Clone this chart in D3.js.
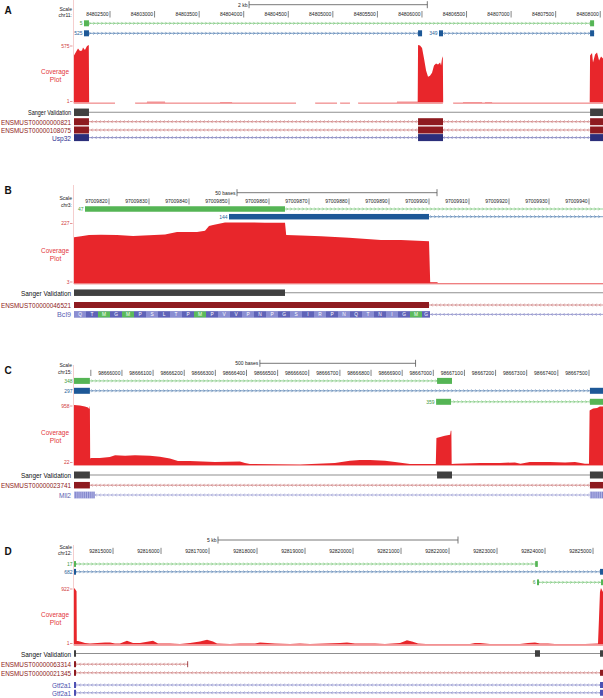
<!DOCTYPE html>
<html><head><meta charset="utf-8">
<script src="https://cdn.jsdelivr.net/npm/d3@7"></script>
<style>body{margin:0;background:#fff}svg{display:block}text{font-family:"Liberation Sans",Arial,sans-serif}</style>
</head><body><svg id="chart" width="603" height="698"></svg>
<script>
// ================= DATA =================
const panelLetters = ["A", "B", "C", "D"];
const chromosomes = ["chr11:", "chr3:", "chr15:", "chr12:"];
const viewRanges = [[84802096, 84808031], [97009811.25, 97009943.5], [98665846, 98667545], [92814187, 92825208]];
const scaleBarLabels = ["2 kb", "50 bases", "500 bases", "5 kb"];
const scaleBarRanges = [[84804060, 84806060], [97009852, 97009902], [98666443, 98666943], [92817187, 92822187]];

const ticksA = [84802500, 84803000, 84803500, 84804000, 84804500, 84805000, 84805500, 84806000, 84806500, 84807000, 84807500, 84808000];
const tickLabelsA = ["84802500", "84803000", "84803500", "84804000", "84804500", "84805000", "84805500", "84806000", "84806500", "84807000", "84807500", "84808000"];
const ticksB = [97009820, 97009830, 97009840, 97009850, 97009860, 97009870, 97009880, 97009890, 97009900, 97009910, 97009920, 97009930, 97009940];
const tickLabelsB = ["97009820", "97009830", "97009840", "97009850", "97009860", "97009870", "97009880", "97009890", "97009900", "97009910", "97009920", "97009930", "97009940"];
const ticksC = [98665900, 98666000, 98666100, 98666200, 98666300, 98666400, 98666500, 98666600, 98666700, 98666800, 98666900, 98667000, 98667100, 98667200, 98667300, 98667400, 98667500];
const tickLabelsC = ["", "98666000", "98666100", "98666200", "98666300", "98666400", "98666500", "98666600", "98666700", "98666800", "98666900", "98667000", "98667100", "98667200", "98667300", "98667400", "98667500"];
const ticksD = [92815000, 92816000, 92817000, 92818000, 92819000, 92820000, 92821000, 92822000, 92823000, 92824000, 92825000];
const tickLabelsD = ["92815000", "92816000", "92817000", "92818000", "92819000", "92820000", "92821000", "92822000", "92823000", "92824000", "92825000"];

const coverageRanges = [[1, 575], [3, 227], [22, 958], [1, 922]];

const coverageA = [[84802096,470],[84802118,505],[84802141,540],[84802163,515],[84802186,520],[84802197,550],[84802219,525],[84802242,565],[84802262,575],
 [84802266,3],[84802556,3],[84802558,0],[84802780,0],[84802782,3],[84802913,3],[84802915,8],[84803117,8],[84803119,3],[84803734,3],[84803736,6],[84803869,6],[84803871,3],[84804587,3],[84804589,0],[84804800,0],[84804802,3],[84805047,3],[84805049,0],[84805080,0],[84805082,3],[84805192,3],[84805194,0],[84805282,0],[84805284,3],[84805718,3],[84805720,8],[84805952,8],
 [84805956,575],[84805978,570],[84806001,545],[84806023,440],[84806046,320],[84806068,257],[84806090,268],[84806113,298],[84806135,370],[84806158,390],[84806180,380],[84806203,400],[84806214,370],[84806225,440],[84806234,462],
 [84806238,0],[84806348,0],[84806350,3],[84806459,3],[84806461,7],[84806674,7],[84806676,3],[84806705,3],[84806707,5],[84806786,5],[84806788,3],[84807882,3],
 [84807886,470],[84807908,495],[84807919,400],[84807942,480],[84807964,500],[84807987,420],[84808009,460],[84808031,440]];
const coverageB = [[97009811.25,172],[97009813,176],[97009815,181],[97009818,182],[97009822,181],[97009826,177],[97009830,180],[97009834,183],[97009837,192],[97009842,192],[97009844,196],[97009845,214],[97009846,218],[97009849,227],[97009855,227],[97009859,226],[97009864,226],[97009864.3,181],[97009868,179],[97009873,176],[97009880,171],[97009888,162],[97009893,162],[97009900,158],[97009900.3,6],[97009902,6],[97009902.3,3],[97009943.5,3]];
const coverageC = [[98665846,958],[98665865,950],[98665881,935],[98665891,919],[98665895,896],[98665897,950],[98665898,100],[98665900,109],[98665929,109],[98665961,125],[98665978,156],[98666010,148],[98666042,156],[98666090,148],[98666122,132],[98666154,101],[98666180,62],[98666218,62],[98666299,47],[98666379,55],[98666395,31],[98666411,16],[98666572,8],[98666684,31],[98666732,67],[98666764,78],[98666797,78],[98666845,67],[98666877,47],[98666925,16],[98667008,16],[98667010,430],[98667025,450],[98667037,467],[98667054,483],[98667056,545],[98667058,545],[98667059,16],[98667070,20],[98667150,31],[98667214,31],[98667262,39],[98667280,20],[98667310,47],[98667375,47],[98667423,39],[98667455,47],[98667487,20],[98667500,20],[98667502,872],[98667513,903],[98667526,910],[98667535,935],[98667545,935]];
const coverageD = [[92814187,922],[92814208,905],[92814229,880],[92814240,870],[92814245,60],[92814270,60],[92814312,50],[92814416,24],[92814520,16],[92814833,32],[92814937,32],[92815041,16],[92815145,16],[92815291,64],[92815416,24],[92815562,24],[92815833,64],[92815937,16],[92816187,16],[92816395,8],[92816604,24],[92816812,48],[92816958,80],[92817083,48],[92817166,16],[92817437,8],[92817645,16],[92817958,16],[92818062,32],[92818374,16],[92818687,8],[92818895,16],[92819103,8],[92819729,24],[92819874,32],[92820041,16],[92820249,16],[92820458,18],[92820666,8],[92820979,24],[92821062,48],[92821124,72],[92821229,48],[92821354,16],[92821520,8],[92821812,8],[92822437,8],[92822541,24],[92822645,24],[92822853,8],[92823478,8],[92823645,24],[92823791,32],[92823895,16],[92824062,16],[92824208,8],[92824833,8],[92825104,16],[92825124,413],[92825145,858],[92825166,922],[92825208,858]];

// junction/read features (type g = green track, b = blue track)
const featuresA = [
  {row: 0, type: "g", label: "5", blocks: [[84802208, 84802264], [84807886, 84807931]]},
  {row: 1, type: "b", label: "525", blocks: [[84802208, 84802264], [84805956, 84806001]]},
  {row: 1, type: "b", label: "349", blocks: [[84806191, 84806236], [84807886, 84807931]]}
];
const featuresB = [
  {row: 0, type: "g", label: "47", blocks: [[97009814, 97009864]], lineTo: 97009950},
  {row: 1, type: "b", label: "144", blocks: [[97009850, 97009900]], lineTo: 97009950}
];
const featuresC = [
  {row: 0, type: "g", label: "348", blocks: [[98665840, 98665897], [98667012, 98667060]]},
  {row: 1, type: "b", label: "297", blocks: [[98665840, 98665897], [98667503, 98667550]]},
  {row: 2, type: "g", label: "359", blocks: [[98667009, 98667057], [98667503, 98667550]]}
];
const featuresD = [
  {row: 0, type: "g", label: "17", blocks: [[92814180, 92814229], [92823795, 92823850]]},
  {row: 1, type: "b", label: "682", blocks: [[92814180, 92814229], [92825146, 92825250]]},
  {row: 2, type: "g", label: "6", blocks: [[92823833, 92823875], [92825166, 92825250]]}
];

const sangerA = {blocks: [[84802090, 84802264], [84807886, 84808040]]};
const sangerB = {blocks: [[97009805, 97009864]], lineTo: 97009950};
const sangerC = {blocks: [[98665840, 98665897], [98667012, 98667060], [98667503, 98667550]]};
const sangerD = {blocks: [[92814180, 92814229], [92823791, 92823895], [92825146, 92825250]]};

const exonsA = [[84802090, 84802264], [84805956, 84806236], [84807886, 84808040]];
const genesA = [
  {name: "ENSMUST00000000821", type: "ens", blocks: exonsA},
  {name: "ENSMUST00000108075", type: "ens", blocks: exonsA},
  {name: "Usp32", type: "refseq", blocks: exonsA}
];
const genesB = [
  {name: "ENSMUST00000046521", type: "ens", blocks: [[97009805, 97009900]], lineTo: 97009950},
  {name: "Bcl9", type: "codons", blocks: [[97009811.25, 97009900.25]], lineTo: 97009950, aa: "QTMGMPSLTPMPVVPNPGSIRPNQTNIGMG"}
];
const genesC = [
  {name: "ENSMUST00000023741", type: "ens", blocks: [[98665840, 98665897], [98667503, 98667550]]},
  {name: "Mll2", type: "stripes", blocks: [[98665840, 98665913], [98667503, 98667550]]}
];
const genesD = [
  {name: "ENSMUST00000063314", type: "ens", blocks: [[92814180, 92814229], [92816548, 92816562]]},
  {name: "ENSMUST00000021345", type: "ens", blocks: [[92814180, 92814229], [92825146, 92825250]]},
  {name: "Gtf2a1", type: "refseq2", blocks: [[92814180, 92814229], [92825146, 92825250]]},
  {name: "Gtf2a1", type: "refseq2", blocks: [[92814180, 92814229], [92825146, 92825250]]}
];

// ================= LAYOUT / STYLE =================
const LAYOUT = [
 {top:0, letterY:13.5, barY:4.7, scaleY:11, chrY:16.5, tickY:16, tickT:11, tickB:17.5, rows:[23.3,33.3], covTop:45, covBot:102.5, base:103.5, sangerY:112.3, geneYs:[121.7,130,137.6], featH:6, geneH:7, sangerW:43},
 {top:185, letterY:193.5, barY:192.7, scaleY:200, chrY:207, tickY:203.3, tickT:198.5, tickB:204.5, rows:[209,216.7], covTop:222.5, covBot:283, base:284, sangerY:292.7, geneYs:[305,314.4], featH:5.5, geneH:6, sangerW:50},
 {top:365, letterY:373.5, barY:363.3, scaleY:367.3, chrY:374.3, tickY:374.8, tickT:369.8, tickB:376, rows:[380.9,390.8,401.8], covTop:405, covBot:463.5, base:465.5, sangerY:475, geneYs:[485.2,495], featH:6, geneH:6.5, sangerW:50},
 {top:545, letterY:554.5, barY:540, scaleY:548.7, chrY:554.7, tickY:552.8, tickT:547.8, tickB:554, rows:[564,571.8,582.3], covTop:588, covBot:644.5, base:645.5, sangerY:653.5, geneYs:[664.2,672.8,685,692.8], featH:5.8, geneH:6, sangerW:50}
];
const COL = {
  g: {box: "#55b555", line: "#6cc06c", text: "#3e9a3e"},
  b: {box: "#1d5897", line: "#4474aa", text: "#2a5f98"},
  ens: {box: "#8e1b20", line: "#c56b6b", text: "#8e1b20"},
  refseq: {box: "#2b2e7a", line: "#6a6db2", text: "#2e3192"},
  refseq2: {box: "#4c51b3", line: "#7a7dc2", text: "#4a4fae"},
  codons: {box: "#6166b8", line: "#7a7dc2", text: "#5b5fb3"},
  stripes: {box: "#a0a4dd", line: "#8c8fcc", text: "#5d61b0"},
  sanger: {box: "#404040", line: "#8f8f8f", text: "#111"}
};
const RED = "#e8262b";
const X0 = 74, X1 = 603;

const panels = [
  {ticks: ticksA, tickLabels: tickLabelsA, features: featuresA, cov: coverageA, sanger: sangerA, genes: genesA},
  {ticks: ticksB, tickLabels: tickLabelsB, features: featuresB, cov: coverageB, sanger: sangerB, genes: genesB},
  {ticks: ticksC, tickLabels: tickLabelsC, features: featuresC, cov: coverageC, sanger: sangerC, genes: genesC},
  {ticks: ticksD, tickLabels: tickLabelsD, features: featuresD, cov: coverageD, sanger: sangerD, genes: genesD}
];

const svg = d3.select("#chart");

function chevPath(xa, xb, y, dir) {
  const step = 4, h = 1.4, w = 1.3;
  let s = "";
  for (let xx = xa + step / 2; xx < xb - 1; xx += step) {
    if (dir > 0) s += `M${xx - w/2},${y - h}L${xx + w/2},${y}L${xx - w/2},${y + h}`;
    else s += `M${xx + w/2},${y - h}L${xx - w/2},${y}L${xx + w/2},${y + h}`;
  }
  return s;
}

function drawRow(g, x, y, item, col, dir, h, chev) {
  const starts = item.blocks.map(b => b[0]);
  const ends = item.blocks.map(b => b[1]);
  const xa = x(d3.min(starts));
  const xb = x(Math.max(d3.max(ends), item.lineTo || 0));
  g.append("line").attr("x1", xa).attr("x2", xb).attr("y1", y).attr("y2", y)
    .attr("stroke", col.line).attr("stroke-width", chev ? 0.7 : 1.1);
  if (chev) g.append("path").attr("d", chevPath(xa, xb, y, dir))
    .attr("fill", "none").attr("stroke", col.line).attr("stroke-width", 0.6);
  g.selectAll(null).data(item.blocks).enter().append("rect")
    .attr("x", d => x(d[0])).attr("width", d => Math.max(0.8, x(d[1]) - x(d[0])))
    .attr("y", y - h / 2).attr("height", h).attr("fill", col.box);
  return xa;
}

panels.forEach((p, i) => {
  const L = LAYOUT[i];
  const x = d3.scaleLinear().domain(viewRanges[i]).range([X0, X1]).clamp(true);
  const g = svg.append("g");

  // guide line
  g.append("line").attr("x1", 73.5).attr("x2", 73.5).attr("y1", L.top).attr("y2", L.base)
    .attr("stroke", "#f3c2c2").attr("stroke-width", 0.8);

  // panel letter
  g.append("text").attr("x", 4.5).attr("y", L.letterY).text(panelLetters[i])
    .attr("font-size", 10).attr("font-weight", "bold").attr("fill", "#111");

  // scale bar
  const sb = scaleBarRanges[i];
  g.append("line").attr("x1", x(sb[0])).attr("x2", x(sb[1])).attr("y1", L.barY).attr("y2", L.barY).attr("stroke", "#555").attr("stroke-width", 0.8);
  sb.forEach(v => g.append("line").attr("x1", x(v)).attr("x2", x(v)).attr("y1", L.barY - 3.5).attr("y2", L.barY + 3.5).attr("stroke", "#555").attr("stroke-width", 0.8));
  g.append("text").attr("x", x(sb[0]) - 1.5).attr("y", L.barY + 2).attr("text-anchor", "end").attr("font-size", 5).attr("fill", "#222").text(scaleBarLabels[i]);

  g.append("text").attr("x", 72).attr("y", L.scaleY).attr("text-anchor", "end").attr("font-size", 5).attr("fill", "#222").text("Scale");
  g.append("text").attr("x", 72).attr("y", L.chrY).attr("text-anchor", "end").attr("font-size", 5).attr("fill", "#222").text(chromosomes[i]);

  // position ticks
  p.ticks.forEach((t, k) => {
    const tx = x(t);
    g.append("line").attr("x1", tx).attr("x2", tx).attr("y1", L.tickT).attr("y2", L.tickB).attr("stroke", "#333").attr("stroke-width", 0.6);
    g.append("text").attr("x", tx - 1.5).attr("y", L.tickY).attr("text-anchor", "end").attr("font-size", 5).attr("fill", "#222").text(p.tickLabels[k]);
  });

  // feature rows
  p.features.forEach(f => {
    const y = L.rows[f.row];
    const xa = drawRow(g, x, y, f, COL[f.type], 1, L.featH, true);
    g.append("text").attr("x", Math.max(xa, X0) - 1.5).attr("y", y + 1.8).attr("text-anchor", "end")
      .attr("font-size", 5).attr("fill", COL[f.type].text).text(f.label);
  });

  // coverage
  const cr = coverageRanges[i];
  const y = d3.scaleLinear().domain(cr).range([L.covBot, L.covTop]);
  g.append("path").datum(p.cov)
    .attr("d", d3.area().x(d => x(d[0])).y0(y(0)).y1(d => y(d[1])))
    .attr("fill", RED);
  g.append("path").datum(p.cov)
    .attr("d", d3.line().defined(d => d[1] > 0).x(d => x(d[0])).y(L.base))
    .attr("fill", "none").attr("stroke", "#f2a3a3").attr("stroke-width", 1.1);
  cr.forEach((v, k) => {
    const yy = y(v) + (k === 0 ? -1 : 1);
    g.append("line").attr("x1", 70).attr("x2", 72.5).attr("y1", yy).attr("y2", yy).attr("stroke", "#d65050").attr("stroke-width", 0.6);
    g.append("text").attr("x", 69.5).attr("y", yy + 1.7).attr("text-anchor", "end").attr("font-size", 5).attr("fill", "#d04040").text(v);
  });
  const cmid = (L.covTop + L.covBot) / 2;
  g.append("text").attr("x", 55).attr("y", cmid + 0.5).attr("text-anchor", "middle").attr("font-size", 8)
    .attr("textLength", 28).attr("lengthAdjust", "spacingAndGlyphs").attr("fill", "#e3353a").text("Coverage");
  g.append("text").attr("x", 55.5).attr("y", cmid + 8.5).attr("text-anchor", "middle").attr("font-size", 8)
    .attr("textLength", 11.5).attr("lengthAdjust", "spacingAndGlyphs").attr("fill", "#e3353a").text("Plot");

  // sanger
  drawRow(g, x, L.sangerY, p.sanger, COL.sanger, 0, L.geneH + 0.5, false);
  g.append("text").attr("x", 71).attr("y", L.sangerY + 3).attr("text-anchor", "end").attr("font-size", 8)
    .attr("textLength", L.sangerW).attr("lengthAdjust", "spacingAndGlyphs").attr("fill", "#111").text("Sanger Validation");

  // genes
  p.genes.forEach((gn, k) => {
    const gy = L.geneYs[k];
    const col = COL[gn.type];
    drawRow(g, x, gy, gn, col, -1, L.geneH, true);
    if (gn.type === "codons" || gn.type === "stripes") {
      gn.blocks.forEach((b, bi) => {
        const n = Math.ceil((b[1] - b[0]) / 3);
        const cod = d3.range(n).map(c => ({s: b[0] + 3 * c, e: Math.min(b[0] + 3 * c + 3, b[1]), aa: gn.aa ? gn.aa[c] : null, c}));
        g.selectAll(null).data(cod).enter().append("rect")
          .attr("x", d => x(d.s)).attr("width", d => Math.max(0, x(d.e) - x(d.s)))
          .attr("y", gy - L.geneH / 2).attr("height", L.geneH)
          .attr("fill", d => d.aa === "M" ? "#5bbb5b" : (gn.type === "codons" ? (d.c % 2 ? "#5f63b8" : "#8a8ed2") : (d.c % 2 ? "#7f83c9" : "#b3b6e6")));
        if (gn.aa) g.selectAll(null).data(cod.filter(d => x(d.e) - x(d.s) > 5)).enter().append("text")
          .attr("x", d => (x(d.s) + x(d.e)) / 2).attr("y", gy + 1.7).attr("text-anchor", "middle")
          .attr("font-size", 4.8).attr("fill", "#fff").text(d => d.aa);
      });
    }
    const isEns = gn.name.startsWith("ENSMUST");
    g.append("text").attr("x", 71).attr("y", gy + 2.9).attr("text-anchor", "end").attr("font-size", 8)
      .attr("textLength", isEns ? 70 : (gn.name === "Bcl9" ? 14 : gn.name === "Mll2" ? 12 : 19))
      .attr("lengthAdjust", "spacingAndGlyphs").attr("fill", col.text).text(gn.name);
  });
});
</script></body></html>
